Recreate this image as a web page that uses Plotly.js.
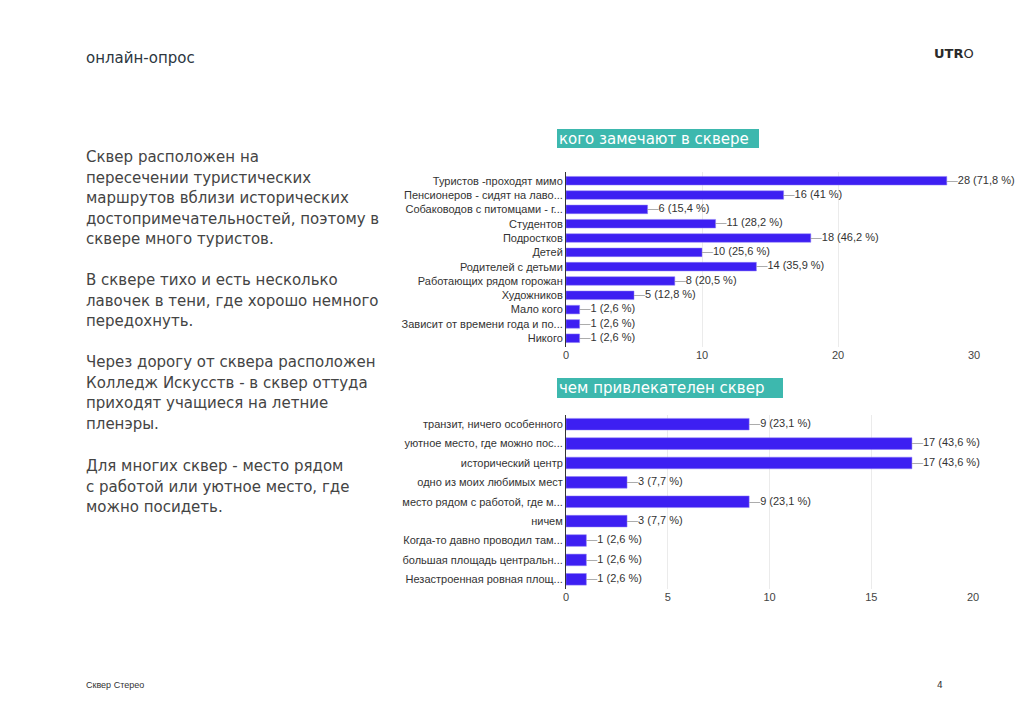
<!DOCTYPE html>
<html>
<head>
<meta charset="utf-8">
<script src="https://cdn.plot.ly/plotly-3.0.1.min.js"></script>
<style>html,body{margin:0;padding:0;background:#fff;}#chart{width:1024px;height:724px;}</style>
</head>
<body>
<div id="chart"></div>
<script>
// ---- data ----
var cats1 = ["Туристов -проходят мимо","Пенсионеров - сидят на лаво...","Собаководов с питомцами - г...","Студентов","Подростков","Детей","Родителей с детьми","Работающих рядом горожан","Художников","Мало кого","Зависит от времени года и по...","Никого"];
var vals1 = [28,16,6,11,18,10,14,8,5,1,1,1];
var labels1 = ["28 (71,8 %)","16 (41 %)","6 (15,4 %)","11 (28,2 %)","18 (46,2 %)","10 (25,6 %)","14 (35,9 %)","8 (20,5 %)","5 (12,8 %)","1 (2,6 %)","1 (2,6 %)","1 (2,6 %)"];

var cats2 = ["транзит, ничего особенного","уютное место, где можно пос...","исторический центр","одно из моих любимых мест","место рядом с работой, где м...","ничем","Когда-то давно проводил там...","большая площадь центральн...","Незастроенная ровная площ..."];
var vals2 = [9,17,17,3,9,3,1,1,1];
var labels2 = ["9 (23,1 %)","17 (43,6 %)","17 (43,6 %)","3 (7,7 %)","9 (23,1 %)","3 (7,7 %)","1 (2,6 %)","1 (2,6 %)","1 (2,6 %)"];

var title1 = "кого замечают в сквере";
var title2 = "чем привлекателен сквер";
var headerText = "онлайн-опрос";
var footerText = "Сквер Стерео";
var pageNum = "4";
var paragraphs = [
  ["Сквер расположен на","пересечении туристических","маршрутов вблизи исторических","достопримечательностей, поэтому в","сквере много туристов."],
  ["В сквере тихо и есть несколько","лавочек в тени, где хорошо немного","передохнуть."],
  ["Через дорогу от сквера расположен","Колледж Искусств - в сквер оттуда","приходят учащиеся на летние","пленэры."],
  ["Для многих сквер - место рядом","с работой или уютное место, где","можно посидеть."]
];
var paraStarts = [157, 280, 362, 466];

// ---- helpers ----
var W = 1024, H = 724;
function px(x){ return x / W; }
function py(y){ return 1 - y / H; }
var barColor = "#3d1ff2";
var lbl = function(arr){ return arr.map(function(s){ return '<span style="color:#9a9a9a">—</span>' + s; }); };

var traces = [
  {type:"bar", orientation:"h", x: vals1, y: cats1, xaxis:"x", yaxis:"y",
   marker:{color:barColor, line:{color:"#8f7ff7", width:0.5}}, hoverinfo:"none"},
  {type:"scatter", mode:"text", x: vals1, y: cats1, xaxis:"x", yaxis:"y",
   text: lbl(labels1), textposition:"middle right", cliponaxis:false,
   textfont:{family:"Liberation Sans, Arial, sans-serif", size:11, color:"#333"}, hoverinfo:"none"},
  {type:"bar", orientation:"h", x: vals2, y: cats2, xaxis:"x2", yaxis:"y2",
   marker:{color:barColor, line:{color:"#8f7ff7", width:0.5}}, hoverinfo:"none"},
  {type:"scatter", mode:"text", x: vals2, y: cats2, xaxis:"x2", yaxis:"y2",
   text: lbl(labels2), textposition:"middle right", cliponaxis:false,
   textfont:{family:"Liberation Sans, Arial, sans-serif", size:11, color:"#333"}, hoverinfo:"none"}
];

var tickFont = {family:"Liberation Sans, Arial, sans-serif", size:11, color:"#333"};
var xTickFont = {family:"Liberation Sans, Arial, sans-serif", size:11, color:"#444"};

var annotations = [];
var lineStep = 20.6;
paragraphs.forEach(function(p, pi){
  p.forEach(function(line, li){
    annotations.push({xref:"paper", yref:"paper", x:px(84), y:py(paraStarts[pi] + li*lineStep),
      xanchor:"left", yanchor:"middle", showarrow:false, text:line, align:"left",
      font:{family:"DejaVu Sans, sans-serif", size:15, color:"#444444"}});
  });
});
annotations.push({xref:"paper", yref:"paper", x:px(84), y:py(58), xanchor:"left", yanchor:"middle",
  showarrow:false, text:headerText, font:{family:"DejaVu Sans, sans-serif", size:15, color:"#2c3640"}});
annotations.push({xref:"paper", yref:"paper", x:px(976), y:py(53), xanchor:"right", yanchor:"middle",
  showarrow:false, text:"<b>UTR</b>O", font:{family:"DejaVu Sans, sans-serif", size:13, color:"#2a2a2a"}});
annotations.push({xref:"paper", yref:"paper", x:px(84), y:py(685), xanchor:"left", yanchor:"middle",
  showarrow:false, text:footerText, font:{family:"Liberation Sans, sans-serif", size:9, color:"#333"}});
annotations.push({xref:"paper", yref:"paper", x:px(945), y:py(685), xanchor:"right", yanchor:"middle",
  showarrow:false, text:pageNum, font:{family:"DejaVu Sans, sans-serif", size:9, color:"#333"}});
annotations.push({xref:"paper", yref:"paper", x:px(557), y:py(139), xanchor:"left", yanchor:"middle",
  showarrow:false, text:title1, font:{family:"DejaVu Sans, sans-serif", size:15, color:"#ffffff"}});
annotations.push({xref:"paper", yref:"paper", x:px(557), y:py(388), xanchor:"left", yanchor:"middle",
  showarrow:false, text:title2, font:{family:"DejaVu Sans, sans-serif", size:15, color:"#ffffff"}});

var shapes = [
  {type:"rect", xref:"paper", yref:"paper", x0:px(557), x1:px(759), y0:py(129), y1:py(148), fillcolor:"#3db8ae", line:{width:0}, layer:"below"},
  {type:"rect", xref:"paper", yref:"paper", x0:px(557), x1:px(783), y0:py(378), y1:py(398), fillcolor:"#3db8ae", line:{width:0}, layer:"below"}
];

var layout = {
  width: W, height: H,
  margin:{l:0, r:0, t:0, b:0},
  paper_bgcolor:"#ffffff", plot_bgcolor:"rgba(0,0,0,0)",
  showlegend:false,
  bargap: 0.4,
  xaxis:{domain:[px(566), px(974)], range:[0,30], dtick:10, anchor:"y",
    showgrid:true, gridcolor:"#ebebeb", zeroline:false, showline:false, ticks:"",
    tickfont:xTickFont, fixedrange:true},
  yaxis:{domain:[py(347), py(172)], autorange:"reversed", anchor:"x", type:"category",
    showgrid:false, zeroline:false, showline:true, linecolor:"#333", linewidth:1, ticks:"",
    ticklabelstandoff:0, tickfont:tickFont, fixedrange:true},
  xaxis2:{domain:[px(566), px(973)], range:[0,20], dtick:5, anchor:"y2",
    showgrid:true, gridcolor:"#ebebeb", zeroline:false, showline:false, ticks:"",
    tickfont:xTickFont, fixedrange:true},
  yaxis2:{domain:[py(589), py(414.5)], autorange:"reversed", anchor:"x2", type:"category",
    showgrid:false, zeroline:false, showline:true, linecolor:"#333", linewidth:1, ticks:"",
    ticklabelstandoff:0, tickfont:tickFont, fixedrange:true},
  annotations: annotations,
  shapes: shapes
};

Plotly.newPlot("chart", traces, layout, {staticPlot:true, displayModeBar:false});
</script>
</body>
</html>
